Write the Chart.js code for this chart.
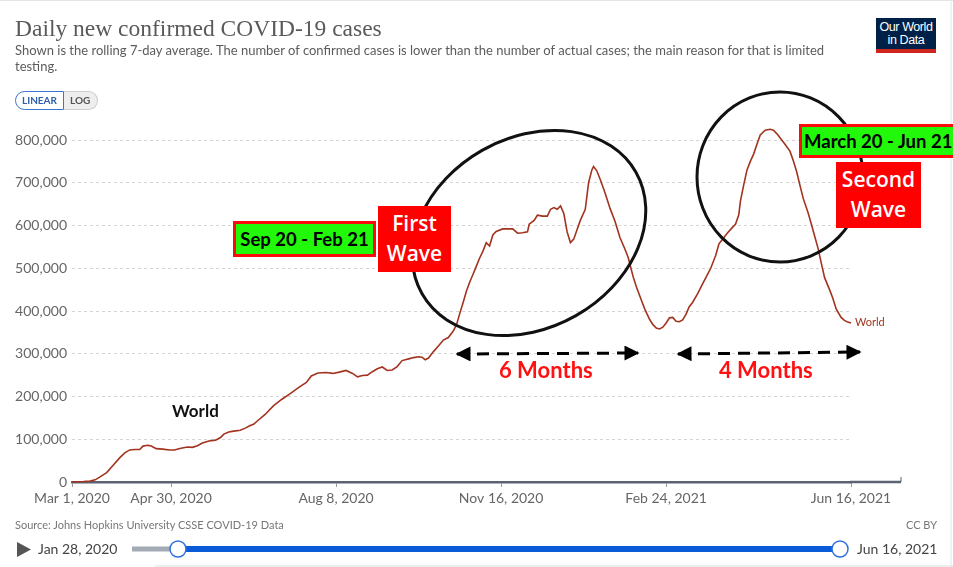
<!DOCTYPE html>
<html>
<head>
<meta charset="utf-8">
<script src="https://cdn.jsdelivr.net/npm/chart.js@4"></script>
<style>
  body { margin: 0; background: #fff; font-family: Lato, sans-serif; }
  #page { position: relative; width: 953px; height: 567px; overflow: hidden; border-top: 1px solid #e4e4e4; box-sizing: border-box; }
  #chart { position: absolute; left: 0; top: 0; }
  .abs { position: absolute; white-space: nowrap; }
  #title { left: 15px; top: 14px; font-family: "Liberation Serif", serif; font-size: 23.5px; color: #5a5a5a; }
  #subtitle { left: 15px; top: 41px; width: 830px; white-space: normal; font-size: 13px; line-height: 16px; color: #5b5b5b; }
  #toggle { left: 15px; top: 90px; height: 19px; display: flex; font-size: 10px; font-weight: bold; }
  #toggle .lin { border: 1px solid #3b75d0; border-radius: 10px 0 0 10px; color: #2d5ea8; padding: 0 6px; line-height: 17px; background: #fff; }
  #toggle .log { border: 1px solid #ccc; border-left: none; border-radius: 0 10px 10px 0; color: #555; background: #eee; padding: 0 7px 0 6px; line-height: 17px; }
  #logo { left: 876px; top: 17px; width: 60px; height: 35px; background: #002147; border-bottom: 4px solid #ce261e; box-sizing: border-box; color: #fff; font-family: "Liberation Sans Narrow", "Liberation Sans", sans-serif; font-size: 12.5px; line-height: 13px; text-align: center; padding-top: 3px; letter-spacing: -0.4px; }
  .green { background: #22f80a; border: 3px solid #ff0a0a; font-weight: bold; color: #000; font-size: 18.5px; box-sizing: border-box; text-align: center; }
  .red { background: #ff0000; color: #fff; font-size: 21px; line-height: 30px; text-align: center; box-sizing: border-box; font-weight: 600; font-family: "Open Sans", sans-serif; }
  .months { color: #ff1111; font-size: 22px; font-weight: bold; }
  #source { left: 15px; top: 517px; font-size: 11px; color: #777; }
  #ccby { left: 906px; top: 517px; font-size: 11px; color: #777; }
  .date { font-size: 14px; color: #444; top: 539px; }
  #overlay { position: absolute; left: 0; top: 0; }
</style>
</head>
<body>
<div id="page">
  <canvas id="chart" width="953" height="567"></canvas>
  <svg id="overlay" width="953" height="567">
    <defs>
      <marker id="head" viewBox="0 0 10 10" refX="9" refY="5" markerWidth="5.5" markerHeight="5" orient="auto-start-reverse">
        <path d="M0,0 L10,5 L0,10 z" fill="#000"/>
      </marker>
    </defs>
    <ellipse cx="529" cy="232" rx="123" ry="95" transform="rotate(-29.6 529 232)" fill="none" stroke="#111" stroke-width="3"/>
    <ellipse cx="780" cy="176" rx="83" ry="85" fill="none" stroke="#111" stroke-width="3"/>
    <line x1="457" y1="353" x2="638" y2="352" stroke="#000" stroke-width="3" stroke-dasharray="12 8" marker-start="url(#head)" marker-end="url(#head)"/>
    <line x1="678" y1="353" x2="860" y2="351" stroke="#000" stroke-width="3" stroke-dasharray="12 8" marker-start="url(#head)" marker-end="url(#head)"/>
    <!-- timeline -->
    <polygon points="17,541 31,548.5 17,556" fill="#555"/>
    <line x1="132" y1="548" x2="178" y2="548" stroke="#a3abb6" stroke-width="5"/>
    <line x1="178" y1="548" x2="840" y2="548" stroke="#0b5bd9" stroke-width="6"/>
    <circle cx="178" cy="548" r="8" fill="#fff" stroke="#2f6fe0" stroke-width="1.5"/>
    <circle cx="840" cy="548" r="8" fill="#fff" stroke="#2f6fe0" stroke-width="1.5"/>
    <line x1="155" y1="565" x2="953" y2="565" stroke="#ddd" stroke-width="1"/>
    <line x1="951" y1="0" x2="951" y2="567" stroke="#e4e4e4" stroke-width="1"/>
  </svg>
  <div id="title" class="abs">Daily new confirmed COVID-19 cases</div>
  <div id="subtitle" class="abs">Shown is the rolling 7-day average. The number of confirmed cases is lower than the number of actual cases; the main reason for that is limited testing.</div>
  <div id="toggle" class="abs"><span class="lin">LINEAR</span><span class="log">LOG</span></div>
  <div id="logo" class="abs">Our World<br>in Data</div>

  <div class="abs green" style="left:233px; top:220px; width:143px; height:36px; line-height:30px;">Sep 20 - Feb 21</div>
  <div class="abs red" style="left:378px; top:205px; width:73px; height:66px; padding-top:2px;">First<br>Wave</div>
  <div class="abs green" style="left:799px; top:123px; width:160px; height:34px; line-height:28px; text-align:left; padding-left:2px;">March 20 - Jun 21</div>
  <div class="abs red" style="left:836px; top:161px; width:85px; height:66px; padding-top:2px;">Second<br>Wave</div>
  <div class="abs months" style="left:499px; top:355px;">6 Months</div>
  <div class="abs months" style="left:719px; top:355px;">4 Months</div>
  <div class="abs" style="left:172px; top:399px; font-size:17px; font-weight:bold; color:#111;">World</div>
  <div class="abs" style="left:855px; top:314px; font-size:11px; color:#a2331f;">World</div>

  <div id="source" class="abs">Source: Johns Hopkins University CSSE COVID-19 Data</div>
  <div id="ccby" class="abs">CC BY</div>
  <div class="abs date" style="left:38px;">Jan 28, 2020</div>
  <div class="abs date" style="left:857px;">Jun 16, 2021</div>
</div>
<script>
// days since Mar 1, 2020
const days = [0, 7, 11, 14, 17, 21, 24, 26, 29, 32, 35, 38, 41, 43, 46, 48, 51, 55, 59, 62,
  66, 70, 73, 76, 79, 83, 87, 90, 92, 95, 98, 102, 105, 108, 110, 113, 117, 122, 127, 132,
  137, 142, 145, 149, 154, 158, 162, 166, 170, 173, 176, 179, 182, 185, 188, 191, 194, 197, 200, 204,
  207, 210, 212, 214, 216, 219, 222, 225, 228, 231, 233, 235, 237, 239, 241, 243, 245, 247, 249, 251,
  253, 255, 257, 261, 264, 267, 270, 273, 276, 277, 280, 282, 285, 288, 290, 292, 294, 296, 298, 300,
  302, 304, 306, 308, 311, 313, 315, 316, 318, 320, 323, 326, 329, 332, 335, 337, 340, 342, 345, 347,
  350, 352, 354, 356, 358, 360, 362, 364, 366, 368, 370, 372, 374, 376, 379, 382, 385, 387, 390, 392,
  395, 397, 400, 402, 404, 405, 407, 409, 411, 413, 415, 417, 420, 423, 425, 427, 429, 432, 435, 437,
  439, 441, 443, 446, 448, 450, 452, 454, 456, 459, 461, 463, 466, 468, 470, 472];

// rolling 7-day average of new cases, thousands
const newCasesK = [0, 1, 2, 5, 12, 22, 35, 44, 57, 68, 75, 76, 76, 84, 86, 84, 78, 77, 75, 75,
  79, 82, 81, 85, 91, 96, 98, 104, 112, 117, 119, 121, 126, 132, 135, 145, 158, 178, 193, 206,
  220, 233, 248, 255, 256, 254, 257, 261, 254, 246, 249, 250, 258, 265, 269, 261, 262, 270, 284, 288,
  291, 293, 292, 286, 290, 305, 318, 332, 338, 353, 368, 395, 420, 447, 468, 486, 505, 524, 540, 560,
  552, 578, 586, 592, 592, 592, 582, 583, 585, 603, 612, 624, 622, 622, 638, 642, 638, 646, 628, 585,
  560, 568, 590, 612, 638, 700, 730, 738, 728, 708, 676, 640, 610, 572, 545, 525, 480, 456, 425, 405,
  380, 368, 360, 358, 362, 372, 384, 385, 376, 375, 379, 392, 410, 420, 440, 463, 485, 500, 530, 557,
  572, 582, 595, 603, 625, 657, 695, 730, 750, 767, 790, 812, 823, 825, 823, 815, 805, 790, 774, 752,
  727, 695, 664, 630, 603, 575, 547, 512, 478, 450, 430, 405, 385, 378, 374, 372];

const xTickDays = [0, 60, 160, 260, 360, 472];
const xTickLabels = ['Mar 1, 2020', 'Apr 30, 2020', 'Aug 8, 2020', 'Nov 16, 2020', 'Feb 24, 2021', 'Jun 16, 2021'];
const yTicks = [0, 100000, 200000, 300000, 400000, 500000, 600000, 700000, 800000];

// axis line runs a bit past the last data point
const axisTail = {
  id: 'axisTail',
  afterDraw(chart) {
    const { ctx, chartArea } = chart;
    ctx.save();
    ctx.strokeStyle = '#5b6272';
    ctx.lineWidth = 2.5;
    ctx.beginPath();
    ctx.moveTo(chartArea.right - 1, chartArea.bottom);
    ctx.lineTo(chartArea.right + 50, chartArea.bottom);
    ctx.stroke();
    ctx.lineWidth = 1;
    ctx.beginPath();
    ctx.moveTo(chartArea.right + 50, chartArea.bottom);
    ctx.lineTo(chartArea.right + 50, chartArea.bottom - 5);
    ctx.stroke();
    ctx.restore();
  }
};

const ctx = document.getElementById('chart').getContext('2d');
new Chart(ctx, {
  type: 'line',
  data: {
    datasets: [{
      data: days.map((d, i) => ({ x: d, y: newCasesK[i] * 1000 })),
      borderColor: '#a2331f',
      borderWidth: 1.6,
      pointRadius: 0,
      tension: 0,
      clip: false
    }]
  },
  options: {
    responsive: false,
    animation: false,
    layout: { padding: { top: 139, right: 102, bottom: 56, left: 0 } },
    plugins: { legend: { display: false }, tooltip: { enabled: false } },
    scales: {
      x: {
        type: 'linear',
        min: 0,
        max: 472,
        afterBuildTicks: s => { s.ticks = xTickDays.map(v => ({ value: v })); },
        afterFit: s => { s.height = 30; },
        ticks: {
          callback: v => xTickLabels[xTickDays.indexOf(v)],
          font: { family: 'Lato', size: 14 },
          color: '#666',
          maxRotation: 0,
          autoSkip: false,
          padding: 3
        },
        grid: { drawOnChartArea: false, color: '#999', tickLength: 5 },
        border: { color: '#5b6272', width: 2.5 }
      },
      y: {
        min: 0,
        max: 800000,
        afterBuildTicks: s => { s.ticks = yTicks.map(v => ({ value: v })); },
        afterFit: s => { s.width = 72; },
        ticks: {
          callback: v => v.toLocaleString('en-US'),
          font: { family: 'Lato', size: 14 },
          color: '#666',
          padding: 5
        },
        grid: { color: '#d4d4d4', drawTicks: false },
        border: { display: false, dash: [3, 3] }
      }
    }
  },
  plugins: [axisTail]
});
</script>
</body>
</html>
